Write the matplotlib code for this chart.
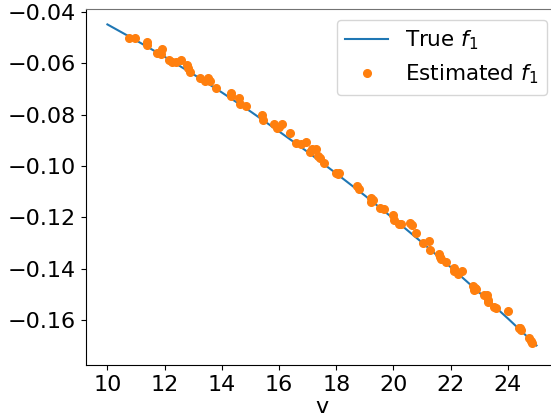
import matplotlib
matplotlib.use('Agg')
import matplotlib.pyplot as plt

# True f1 curve at integer v
v_true = [10, 11, 12, 13, 14, 15, 16, 17, 18, 19, 20, 21, 22, 23, 24, 25]
f1_true = [-0.0448, -0.0510, -0.0574, -0.0642, -0.0713, -0.0787, -0.0865, -0.0945,
           -0.1029, -0.1115, -0.1205, -0.1298, -0.1394, -0.1493, -0.1594, -0.1699]

# Estimated f1 points
v_est = [10.74, 10.95, 11.38, 11.38, 11.73, 11.88, 11.91, 12.14, 12.26, 12.41,
         12.57, 12.78, 12.80, 12.90, 13.24, 13.42, 13.50, 13.59, 13.80, 14.31,
         14.31, 14.60, 14.64, 14.84, 15.42, 15.45, 15.84, 15.92, 16.00, 16.09,
         16.38, 16.58, 16.77, 16.94, 17.08, 17.14, 17.29, 17.37, 17.43, 17.57,
         17.98, 18.07, 18.09, 18.74, 18.80, 19.23, 19.27, 19.23, 19.52, 19.67,
         19.99, 20.02, 20.20, 20.28, 20.57, 20.65, 20.78, 21.03, 21.24, 21.28,
         21.58, 21.61, 21.67, 21.85, 22.10, 22.11, 22.25, 22.39, 22.78, 22.84,
         22.87, 22.81, 23.15, 23.28, 23.30, 23.30, 23.53, 23.59, 24.00, 24.38,
         24.45, 24.41, 24.73, 24.81, 24.85]
f1_est = [-0.0502, -0.0500, -0.0516, -0.0529, -0.0559, -0.0564, -0.0544, -0.0587, -0.0594, -0.0594,
          -0.0587, -0.0606, -0.0619, -0.0635, -0.0656, -0.0669, -0.0658, -0.0669, -0.0697, -0.0717,
          -0.0726, -0.0734, -0.0760, -0.0765, -0.0801, -0.0821, -0.0836, -0.0853, -0.0847, -0.0837,
          -0.0870, -0.0911, -0.0914, -0.0905, -0.0944, -0.0935, -0.0935, -0.0961, -0.0968, -0.0989,
          -0.1026, -0.1032, -0.1026, -0.1078, -0.1090, -0.1123, -0.1132, -0.1139, -0.1162, -0.1167,
          -0.1191, -0.1210, -0.1226, -0.1226, -0.1223, -0.1230, -0.1262, -0.1301, -0.1292, -0.1327,
          -0.1343, -0.1353, -0.1362, -0.1373, -0.1398, -0.1409, -0.1422, -0.1409, -0.1467, -0.1476,
          -0.1480, -0.1483, -0.1502, -0.1502, -0.1522, -0.1531, -0.1548, -0.1554, -0.1565, -0.1630,
          -0.1639, -0.1632, -0.1669, -0.1680, -0.1688]

fig = plt.figure(figsize=(5.51, 4.16), dpi=100)
ax = fig.add_axes([0.156, 0.1216, 0.8566, 0.8567])

ax.plot(v_true, f1_true, color='C0', linewidth=1.5, label='True $f_1$')
ax.plot(v_est, f1_est, 'o', color='C1', markersize=5.5, label='Estimated $f_1$')

ax.set_xlim(9.25, 25.75)
ax.set_ylim(-0.1777, -0.0388)
ax.set_xticks([10, 12, 14, 16, 18, 20, 22, 24])
ax.set_yticks([-0.16, -0.14, -0.12, -0.10, -0.08, -0.06, -0.04])
ax.tick_params(labelsize=16)
ax.spines['top'].set_color('0.45')
ax.set_xlabel('v', fontsize=16, labelpad=1)
ax.legend(loc='upper right', fontsize=15.5)

fig.savefig('out.png', dpi=100)
